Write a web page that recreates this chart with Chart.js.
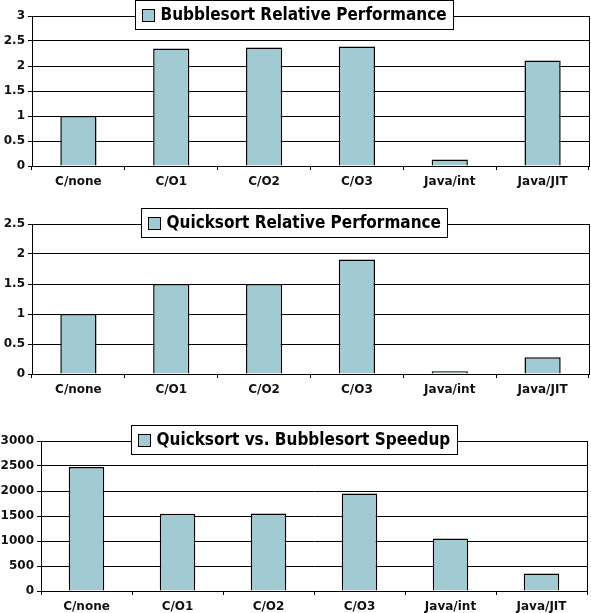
<!DOCTYPE html>
<html lang="en">
<head>
<meta charset="UTF-8">
<title>Sort Performance</title>
<script src="https://cdn.jsdelivr.net/npm/chart.js"></script>
<style>
  html, body { margin: 0; padding: 0; background: #fff; overflow: hidden; }
  .box { position: absolute; left: 0; width: 591px; }
</style>
</head>
<body>
<div class="box" style="top:0;height:188px"><canvas id="bubble"></canvas></div>
<div class="box" style="top:200px;height:196px"><canvas id="quick"></canvas></div>
<div class="box" style="top:420px;height:193px"><canvas id="speedup"></canvas></div>
<script>
// categories shared by all three charts
const categories = ['C/none', 'C/O1', 'C/O2', 'C/O3', 'Java/int', 'Java/JIT'];

// values
const bubbleValues = [1.0, 2.35, 2.37, 2.39, 0.13, 2.11];
const quickValues = [1.0, 1.5, 1.5, 1.91, 0.045, 0.28];
const speedupValues = [2480, 1545, 1550, 1950, 1050, 350];

const bubbleLabel = 'Bubblesort Relative Performance';
const quickLabel = 'Quicksort Relative Performance';
const speedupLabel = 'Quicksort vs. Bubblesort Speedup';

const barColor = '#a2cad2';
const font = 'DejaVu Sans';

Chart.defaults.font.family = font;
Chart.defaults.font.size = 12;
Chart.defaults.font.weight = 'bold';
Chart.defaults.color = '#111';

// boxed legend that overlaps the top of the plot, plus the right frame line
const boxedLegend = {
    id: 'boxedLegend',
    afterDraw(chart) {
        const ctx = chart.ctx;
        const area = chart.chartArea;
        const text = chart.data.datasets[0].label;
        ctx.save();
        // right border of the plot area
        ctx.strokeStyle = '#000';
        ctx.lineWidth = 1;
        ctx.beginPath();
        ctx.moveTo(Math.round(area.right) + 0.5, area.top);
        ctx.lineTo(Math.round(area.right) + 0.5, area.bottom);
        ctx.stroke();

        ctx.font = 'bold 17px "DejaVu Sans Condensed", "DejaVu Sans"';
        const tw = ctx.measureText(text).width;
        const w = Math.round(7 + 12 + 6 + tw + 7);
        const h = 29;
        const x = Math.round(chart.width / 2 - 2 - w / 2) + 0.5;
        const y = Math.round(area.top - 16) + 0.5;
        ctx.fillStyle = '#fff';
        ctx.fillRect(x, y, w, h);
        ctx.strokeRect(x, y, w, h);
        ctx.fillStyle = barColor;
        ctx.fillRect(x + 7, y + 9, 12, 12);
        ctx.strokeRect(x + 7, y + 9, 12, 12);
        ctx.fillStyle = '#000';
        ctx.textBaseline = 'middle';
        ctx.fillText(text, x + 25, y + h / 2 + 1);
        ctx.restore();
    }
};

function makeChart(id, label, values, max, step, yWidth, pad) {
    return new Chart(document.getElementById(id), {
        type: 'bar',
        data: {
            labels: categories,
            datasets: [{
                label: label,
                data: values,
                backgroundColor: barColor,
                borderColor: '#000',
                borderWidth: 1.5,
                barPercentage: 0.39,
                categoryPercentage: 1
            }]
        },
        options: {
            responsive: true,
            maintainAspectRatio: false,
            animation: false,
            layout: { padding: pad },
            plugins: {
                legend: { display: false },
                tooltip: { enabled: false }
            },
            scales: {
                x: {
                    grid: { offset: true, drawOnChartArea: false, color: '#000', tickLength: 4 },
                    border: { color: '#000' },
                    ticks: { padding: 5 },
                    afterFit(scale) { scale.height = 22; }
                },
                y: {
                    min: 0,
                    max: max,
                    grid: { color: '#000', tickLength: 4 },
                    border: { color: '#000' },
                    ticks: { stepSize: step, padding: 3, callback: v => String(v) },
                    afterFit(scale) { scale.width = yWidth; }
                }
            }
        },
        plugins: [boxedLegend]
    });
}

makeChart('bubble', bubbleLabel, bubbleValues, 3, 0.5, 32, { top: 16, right: 2, bottom: 0, left: 0 });
makeChart('quick', quickLabel, quickValues, 2.5, 0.5, 32, { top: 24, right: 2, bottom: 0, left: 0 });
makeChart('speedup', speedupLabel, speedupValues, 3000, 500, 41, { top: 21, right: 4, bottom: 0, left: 0 });
</script>
</body>
</html>
